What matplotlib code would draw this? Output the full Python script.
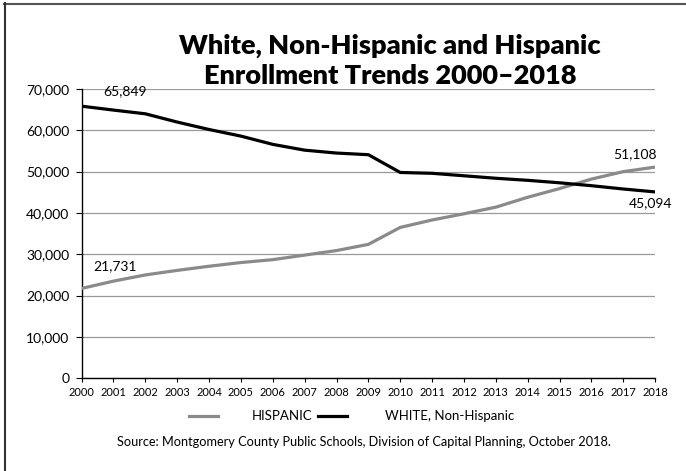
import matplotlib
matplotlib.use("Agg")
import matplotlib.pyplot as plt
from matplotlib.lines import Line2D
from matplotlib.ticker import FuncFormatter, MultipleLocator

years = list(range(2000, 2019))
hispanic = [21731, 23500, 25000, 26100, 27100, 28000, 28700, 29800, 30900, 32400,
            36500, 38300, 39800, 41400, 43800, 45900, 48200, 50000, 51108]
white = [65849, 64900, 64000, 62000, 60200, 58600, 56600, 55200, 54500, 54100,
         49800, 49600, 49000, 48400, 47900, 47300, 46600, 45800, 45094]

title_lines = ["White, Non-Hispanic and Hispanic", "Enrollment Trends 2000\u20132018"]
source = "Source: Montgomery County Public Schools, Division of Capital Planning, October 2018."

plt.rcParams["font.family"] = ["Lato", "DejaVu Sans"]

W, H = 686, 471
fig = plt.figure(figsize=(W / 100, H / 100), dpi=100)
ax = fig.add_axes([0.119, 0.197, 0.836, 0.614])

hisp_color = "#8a8a8a"
white_color = "#000000"

ax.plot(years, hispanic, color=hisp_color, lw=2.3, solid_capstyle="butt", zorder=3)
ax.plot(years, white, color=white_color, lw=2.3, solid_capstyle="butt", zorder=4)

ax.set_xlim(2000, 2018)
ax.set_ylim(0, 70000)
ax.set_xticks(years)
ax.yaxis.set_major_locator(MultipleLocator(10000))
ax.yaxis.set_major_formatter(FuncFormatter(lambda v, p: f"{int(v):,}"))
ax.tick_params(axis="y", labelsize=10, length=4, width=0.8, pad=5)
ax.tick_params(axis="x", labelsize=8, length=3, width=0.8, pad=3)
ax.grid(axis="y", color="#9a9a9a", lw=0.9)
ax.set_axisbelow(True)
for s in ("top", "right"):
    ax.spines[s].set_visible(False)
for s in ("left", "bottom"):
    ax.spines[s].set_linewidth(1.0)
    ax.spines[s].set_color("black")
ax.spines["bottom"].set_zorder(5)

# Endpoint value labels
lab = dict(textcoords="offset points", va="center", fontsize=10)
ax.annotate(f"{white[0]:,}", (years[0], white[0]), xytext=(31, 11), ha="center", **lab)
ax.annotate(f"{hispanic[0]:,}", (years[0], hispanic[0]), xytext=(24, 16), ha="center", **lab)
ax.annotate(f"{hispanic[-1]:,}", (years[-1], hispanic[-1]), xytext=(1, 9), ha="right", **lab)
ax.annotate(f"{white[-1]:,}", (years[-1], white[-1]), xytext=(12.5, -8), ha="right", **lab)

# Title, two centred lines
for line, base in zip(title_lines, (54, 84)):
    fig.text(390 / W, 1 - base / H, line, ha="center", va="baseline",
             fontsize=19.5, fontweight="heavy")

# Legend drawn along the bottom
ly = 1 - 416 / H
fig.add_artist(Line2D([189 / W, 218 / W], [ly, ly], color=hisp_color, lw=2.3,
                      transform=fig.transFigure))
fig.text(252 / W, ly, "HISPANIC", ha="left", va="center", fontsize=9.5)
fig.add_artist(Line2D([318 / W, 347 / W], [ly, ly], color=white_color, lw=2.3,
                      transform=fig.transFigure))
fig.text(385 / W, ly, "WHITE, Non-Hispanic", ha="left", va="center", fontsize=9.5)

fig.text(364 / W, 1 - 442 / H, source, ha="center", va="center", fontsize=9.2)

# Frame edges at top and left
fig.add_artist(Line2D([4 / W, 1.0], [1 - 3.5 / H] * 2, color="#555555", lw=1.5,
                      transform=fig.transFigure))
fig.add_artist(Line2D([4.5 / W] * 2, [0.0, 1 - 3 / H], color="#333333", lw=1.5,
                      transform=fig.transFigure))

fig.savefig("out.png", dpi=100)
